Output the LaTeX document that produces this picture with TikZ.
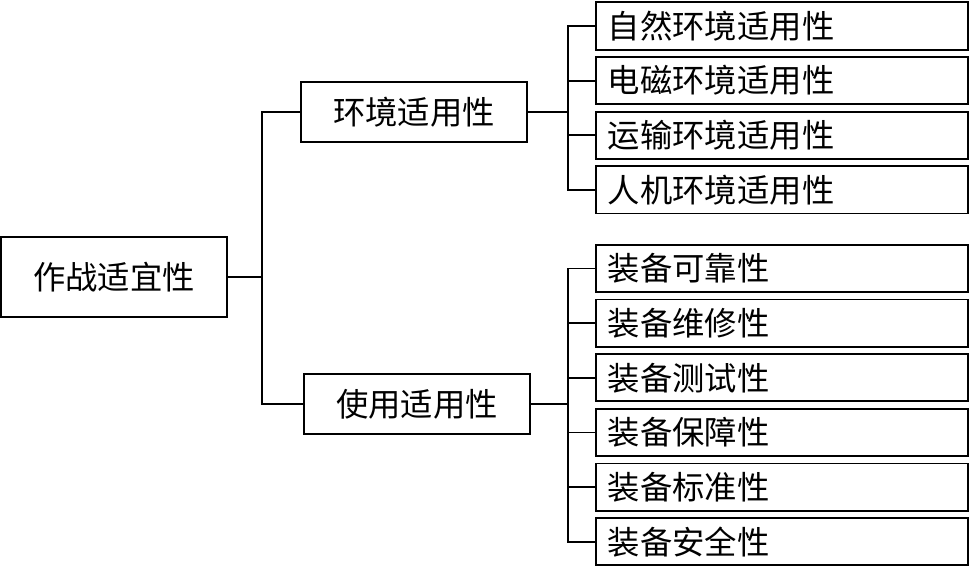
\documentclass[tikz,border=0pt]{standalone}
\usepackage{fontspec}
\newfontfamily\cjk{Noto Sans CJK SC}
\usepackage{tikz}
\usetikzlibrary{positioning}
\tikzset{
  suitroot/.style={draw, line width=1.3pt, minimum width=5.65cm, minimum height=2cm, inner sep=0pt, font=\cjk\fontsize{23}{23}\selectfont},
  suitmid/.style={draw, line width=1.3pt, minimum width=5.65cm, minimum height=1.5cm, inner sep=0pt, font=\cjk\fontsize{23}{23}\selectfont},
  suitleaf/.style={draw, line width=1.3pt, text width=8.7cm, align=left, inner xsep=0.3cm, inner ysep=0pt, minimum height=1.18cm, font=\cjk\fontsize{23}{23}\selectfont},
  suitline/.style={line width=1.3pt}
}
\begin{document}
\begin{tikzpicture}[x=0.025cm, y=-0.025cm]
\useasboundingbox (0,0) rectangle (973,572);

\node[suitroot] (root) at (114,277) {作战适宜性};
\node[suitmid] (env) at (414,112) {环境适用性};
\node[suitmid] (use) at (417,404) {使用适用性};

\node[suitleaf] (nat) at (782,26) {自然环境适用性};
\node[suitleaf, below=0.14cm of nat] (emc) {电磁环境适用性};
\node[suitleaf, below=0.14cm of emc] (trans) {运输环境适用性};
\node[suitleaf, below=0.14cm of trans] (hum) {人机环境适用性};

\node[suitleaf] (rel) at (782,268.5) {装备可靠性};
\node[suitleaf, below=0.14cm of rel] (mnt) {装备维修性};
\node[suitleaf, below=0.14cm of mnt] (tst) {装备测试性};
\node[suitleaf, below=0.14cm of tst] (sup) {装备保障性};
\node[suitleaf, below=0.14cm of sup] (std) {装备标准性};
\node[suitleaf, below=0.14cm of std] (saf) {装备安全性};

\coordinate (fork0) at (262,277);
\coordinate (fork1) at (568,112);
\coordinate (fork2) at (568,404);

\draw[suitline] (root.east) -- (fork0);
\draw[suitline] (fork0) |- (env.west);
\draw[suitline] (fork0) |- (use.west);
\draw[suitline] (env.east) -- (fork1);
\draw[suitline] (use.east) -- (fork2);
\foreach \n in {nat,emc,trans,hum}
  \draw[suitline] (fork1) |- (\n.west);
\foreach \n in {rel,mnt,tst,sup,std,saf}
  \draw[suitline] (fork2) |- (\n.west);
\end{tikzpicture}
\end{document}
